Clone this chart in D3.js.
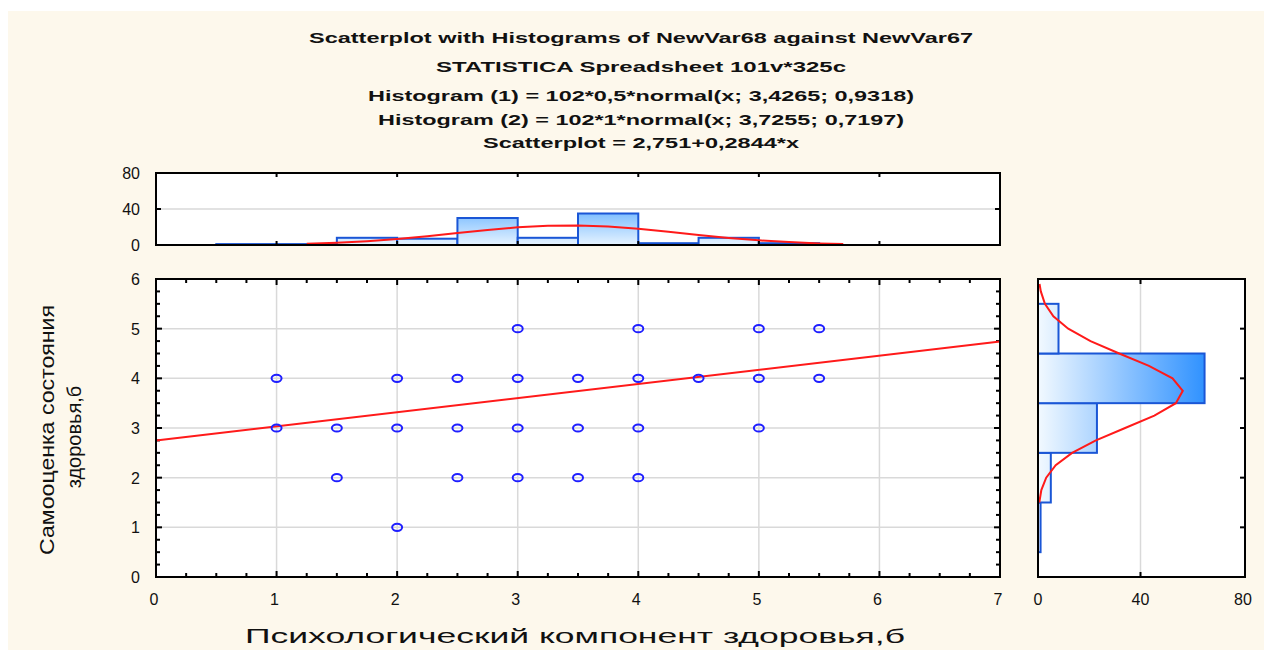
<!DOCTYPE html>
<html>
<head>
<meta charset="utf-8">
<script src="https://cdn.jsdelivr.net/npm/d3@7"></script>
<style>
  body { margin: 0; background: #fff; }
  text { font-family: "Liberation Sans", Arial, sans-serif; fill: #111; }
</style>
</head>
<body>
<svg id="chart" width="1264" height="650"></svg>
<script>
// title lines
const titleLines = [
  "Scatterplot with Histograms of NewVar68 against NewVar67",
  "STATISTICA Spreadsheet 101v*325c",
  "Histogram (1) = 102*0,5*normal(x; 3,4265; 0,9318)",
  "Histogram (2) = 102*1*normal(x; 3,7255; 0,7197)",
  "Scatterplot = 2,751+0,2844*x"
];

// scatter points
const scatterX = [3, 4, 5, 5.5,
  1, 2, 2.5, 3, 3.5, 4, 4.5, 5, 5.5,
  1, 1.5, 2, 2.5, 3, 3.5, 4, 5,
  1.5, 2.5, 3, 3.5, 4,
  2];
const scatterY = [5, 5, 5, 5,
  4, 4, 4, 4, 4, 4, 4, 4, 4,
  3, 3, 3, 3, 3, 3, 3, 3,
  2, 2, 2, 2, 2,
  1];

// fitted line, ends read at x = 0 and x = 7
const fitX = [0, 7];
const fitY = [2.75, 4.74];

// histogram (1): x bins of width 0.5
const histXStart = [0.5, 1.0, 1.5, 2.0, 2.5, 3.0, 3.5, 4.0, 4.5, 5.0];
const histXCount = [1, 1, 8, 7, 30, 8, 35, 2, 8, 2];
const topCurveX = [1.25, 1.5, 1.75, 2.0, 2.25, 2.5, 2.75, 3.0, 3.25, 3.5, 3.75, 4.0, 4.25, 4.5, 4.75, 5.0, 5.25, 5.5, 5.7];
const topCurveN = [1.4, 2.6, 4.3, 6.7, 9.8, 13.3, 16.7, 19.6, 21.4, 21.7, 20.6, 18.1, 14.8, 11.2, 7.9, 5.2, 3.2, 1.8, 1.1];

// histogram (2): y bins of width 1
const histYCenter = [1, 2, 3, 4, 5];
const histYCount = [1, 5, 23, 65, 8];
const rightCurveY = [1.5, 1.75, 2.0, 2.25, 2.5, 2.75, 3.0, 3.25, 3.5, 3.75, 4.0, 4.25, 4.5, 4.75, 5.0, 5.25, 5.5, 5.75, 5.9];
const rightCurveN = [0.5, 1.3, 3.2, 6.9, 13.3, 22.6, 34.0, 45.4, 53.8, 56.5, 52.5, 43.3, 31.7, 20.5, 11.8, 6.0, 2.7, 1.1, 0.6];

const xTicks = [0, 1, 2, 3, 4, 5, 6, 7];
const yTicks = [0, 1, 2, 3, 4, 5, 6];
const countTicks = [0, 40, 80];

const svg = d3.select("#chart");

// cream paper
svg.append("rect").attr("x", 8).attr("y", 11).attr("width", 1256).attr("height", 639).attr("fill", "#fdf8ec");

const x = d3.scaleLinear().domain([0, 7]).range([156, 1000]);
const y = d3.scaleLinear().domain([0, 6]).range([577, 279]);
const yTop = d3.scaleLinear().domain([0, 80]).range([245, 173]);
const xRight = d3.scaleLinear().domain([0, 80]).range([1038, 1243]);

const BLUE = "#1a56d6";
const RED = "#ff1a1a";
const GRID = "#d9d9d9";

// gradients
const defs = svg.append("defs");
const gTop = defs.append("linearGradient").attr("id", "gradTop")
  .attr("gradientUnits", "userSpaceOnUse")
  .attr("x1", 0).attr("x2", 0).attr("y1", yTop(0)).attr("y2", yTop(35));
gTop.append("stop").attr("offset", "0%").attr("stop-color", "#e6f3ff");
gTop.append("stop").attr("offset", "100%").attr("stop-color", "#80bfff");
const gRight = defs.append("linearGradient").attr("id", "gradRight")
  .attr("gradientUnits", "userSpaceOnUse")
  .attr("y1", 0).attr("y2", 0).attr("x1", xRight(0)).attr("x2", xRight(65));
gRight.append("stop").attr("offset", "0%").attr("stop-color", "#f2f9ff");
gRight.append("stop").attr("offset", "100%").attr("stop-color", "#3092ff");

// titles
const titleY = [38, 67, 96, 120, 143];
const titleW = [664, 410, 546, 526, 316];
svg.append("g").selectAll("text").data(titleLines).join("text")
  .attr("x", 641)
  .attr("y", (d, i) => titleY[i] + 5)
  .attr("text-anchor", "middle")
  .attr("textLength", (d, i) => titleW[i])
  .attr("lengthAdjust", "spacingAndGlyphs")
  .style("font-size", "15px")
  .style("font-weight", "bold")
  .text(d => d);

// ---------- top histogram ----------
const topHist = svg.append("g");
topHist.append("rect").attr("x", x(0)).attr("y", yTop(80))
  .attr("width", x(7) - x(0)).attr("height", yTop(0) - yTop(80)).attr("fill", "#fff");
topHist.append("line").attr("x1", x(0)).attr("x2", x(7)).attr("y1", yTop(40)).attr("y2", yTop(40))
  .attr("stroke", GRID).attr("stroke-width", 1.5);
topHist.selectAll(".bar").data(histXStart).join("rect")
  .attr("x", d => x(d))
  .attr("y", (d, i) => yTop(histXCount[i]))
  .attr("width", d => x(d + 0.5) - x(d))
  .attr("height", (d, i) => yTop(0) - yTop(histXCount[i]))
  .attr("fill", "url(#gradTop)")
  .attr("stroke", BLUE).attr("stroke-width", 2);
topHist.append("path")
  .datum(topCurveX.map((d, i) => [d, topCurveN[i]]))
  .attr("d", d3.line().x(d => x(d[0])).y(d => yTop(d[1])))
  .attr("fill", "none").attr("stroke", RED).attr("stroke-width", 2);
// ticks inside frame
topHist.selectAll(".tt").data(xTicks.slice(1, 7)).join("line")
  .attr("x1", d => x(d)).attr("x2", d => x(d)).attr("y1", yTop(80)).attr("y2", yTop(80) + 4)
  .attr("stroke", "#000").attr("stroke-width", 2);
topHist.selectAll(".tb").data(xTicks.slice(1, 7)).join("line")
  .attr("x1", d => x(d)).attr("x2", d => x(d)).attr("y1", yTop(0)).attr("y2", yTop(0) - 4)
  .attr("stroke", "#000").attr("stroke-width", 2);
topHist.append("line").attr("x1", x(0)).attr("x2", x(0) + 5).attr("y1", yTop(40)).attr("y2", yTop(40))
  .attr("stroke", "#000").attr("stroke-width", 2);
topHist.append("line").attr("x1", x(7)).attr("x2", x(7) - 5).attr("y1", yTop(40)).attr("y2", yTop(40))
  .attr("stroke", "#000").attr("stroke-width", 2);
topHist.append("rect").attr("x", x(0)).attr("y", yTop(80))
  .attr("width", x(7) - x(0)).attr("height", yTop(0) - yTop(80))
  .attr("fill", "none").attr("stroke", "#000").attr("stroke-width", 2);
topHist.selectAll(".tl").data(countTicks).join("text")
  .attr("x", 140).attr("y", d => yTop(d) + 6)
  .attr("text-anchor", "end").style("font-size", "16px").text(d => d);

// ---------- scatter plot ----------
const sc = svg.append("g");
sc.append("rect").attr("x", x(0)).attr("y", y(6))
  .attr("width", x(7) - x(0)).attr("height", y(0) - y(6)).attr("fill", "#fff");
sc.selectAll(".gx").data(xTicks.slice(1, 7)).join("line")
  .attr("x1", d => x(d)).attr("x2", d => x(d)).attr("y1", y(0)).attr("y2", y(6))
  .attr("stroke", GRID).attr("stroke-width", 1.5);
sc.selectAll(".gy").data(yTicks.slice(1, 6)).join("line")
  .attr("x1", x(0)).attr("x2", x(7)).attr("y1", d => y(d)).attr("y2", d => y(d))
  .attr("stroke", GRID).attr("stroke-width", 1.5);

// inward ticks on all four sides
const xMinor = d3.range(0, 28).map(i => i * 0.25).filter(v => v > 0);
const yMinor = d3.range(0, 24).map(i => i * 0.25).filter(v => v > 0);
const tickLen = v => (Number.isInteger(v) ? 6 : 4);
[y(0), y(6)].forEach((yy, k) => {
  sc.selectAll(".mx" + k).data(xMinor).join("line")
    .attr("x1", d => x(d)).attr("x2", d => x(d))
    .attr("y1", yy).attr("y2", d => yy + (k === 0 ? -tickLen(d) : tickLen(d)))
    .attr("stroke", "#000").attr("stroke-width", 2);
});
[x(0), x(7)].forEach((xx, k) => {
  sc.selectAll(".my" + k).data(yMinor).join("line")
    .attr("y1", d => y(d)).attr("y2", d => y(d))
    .attr("x1", xx).attr("x2", d => xx + (k === 0 ? tickLen(d) : -tickLen(d)))
    .attr("stroke", "#000").attr("stroke-width", 2);
});

sc.append("path")
  .datum(fitX.map((d, i) => [d, fitY[i]]))
  .attr("d", d3.line().x(d => x(d[0])).y(d => y(d[1])))
  .attr("stroke", RED).attr("stroke-width", 2).attr("fill", "none");

sc.selectAll(".pt").data(scatterX).join("ellipse")
  .attr("cx", d => x(d))
  .attr("cy", (d, i) => y(scatterY[i]))
  .attr("rx", 5).attr("ry", 3.6)
  .attr("fill", "none").attr("stroke", "#1f1fff").attr("stroke-width", 2);

sc.append("rect").attr("x", x(0)).attr("y", y(6))
  .attr("width", x(7) - x(0)).attr("height", y(0) - y(6))
  .attr("fill", "none").attr("stroke", "#000").attr("stroke-width", 2);

sc.selectAll(".xl").data(xTicks).join("text")
  .attr("x", d => x(d) - 2).attr("y", 605)
  .attr("text-anchor", "middle").style("font-size", "16px").text(d => d);
sc.selectAll(".yl").data(yTicks).join("text")
  .attr("x", 140).attr("y", d => y(d) + 6)
  .attr("text-anchor", "end").style("font-size", "16px").text(d => d);

// axis titles
svg.append("text")
  .attr("x", 575).attr("y", 643)
  .attr("text-anchor", "middle")
  .attr("textLength", 660).attr("lengthAdjust", "spacingAndGlyphs")
  .style("font-size", "21px")
  .text("Психологический компонент здоровья,б");
svg.append("text")
  .attr("transform", "translate(54,430) rotate(-90)")
  .attr("text-anchor", "middle")
  .attr("textLength", 250).attr("lengthAdjust", "spacingAndGlyphs")
  .style("font-size", "20px")
  .text("Самооценка состояния");
svg.append("text")
  .attr("transform", "translate(81,437) rotate(-90)")
  .attr("text-anchor", "middle")
  .style("font-size", "20px")
  .text("здоровья,б");

// ---------- right histogram ----------
const rt = svg.append("g");
rt.append("rect").attr("x", xRight(0)).attr("y", y(6))
  .attr("width", 1245 - xRight(0)).attr("height", y(0) - y(6)).attr("fill", "#fff");
rt.append("line").attr("x1", xRight(40)).attr("x2", xRight(40)).attr("y1", y(0)).attr("y2", y(6))
  .attr("stroke", GRID).attr("stroke-width", 1.5);
rt.selectAll(".bar").data(histYCenter).join("rect")
  .attr("x", xRight(0))
  .attr("y", d => y(d + 0.5))
  .attr("width", (d, i) => xRight(histYCount[i]) - xRight(0))
  .attr("height", d => y(d - 0.5) - y(d + 0.5))
  .attr("fill", "url(#gradRight)")
  .attr("stroke", BLUE).attr("stroke-width", 2);
rt.append("path")
  .datum(rightCurveY.map((d, i) => [d, rightCurveN[i]]))
  .attr("d", d3.line().x(d => xRight(d[1])).y(d => y(d[0])))
  .attr("fill", "none").attr("stroke", RED).attr("stroke-width", 2);
rt.selectAll(".tr").data(yTicks.slice(1, 6)).join("line")
  .attr("x1", 1245).attr("x2", 1240).attr("y1", d => y(d)).attr("y2", d => y(d))
  .attr("stroke", "#000").attr("stroke-width", 2);
rt.append("line").attr("x1", xRight(40)).attr("x2", xRight(40)).attr("y1", y(6)).attr("y2", y(6) + 5)
  .attr("stroke", "#000").attr("stroke-width", 2);
rt.append("line").attr("x1", xRight(40)).attr("x2", xRight(40)).attr("y1", y(0)).attr("y2", y(0) - 5)
  .attr("stroke", "#000").attr("stroke-width", 2);
rt.append("rect").attr("x", xRight(0)).attr("y", y(6))
  .attr("width", 1245 - xRight(0)).attr("height", y(0) - y(6))
  .attr("fill", "none").attr("stroke", "#000").attr("stroke-width", 2);
rt.selectAll(".cl").data(countTicks).join("text")
  .attr("x", d => xRight(d)).attr("y", 605)
  .attr("text-anchor", "middle").style("font-size", "16px").text(d => d);
</script>
</body>
</html>
